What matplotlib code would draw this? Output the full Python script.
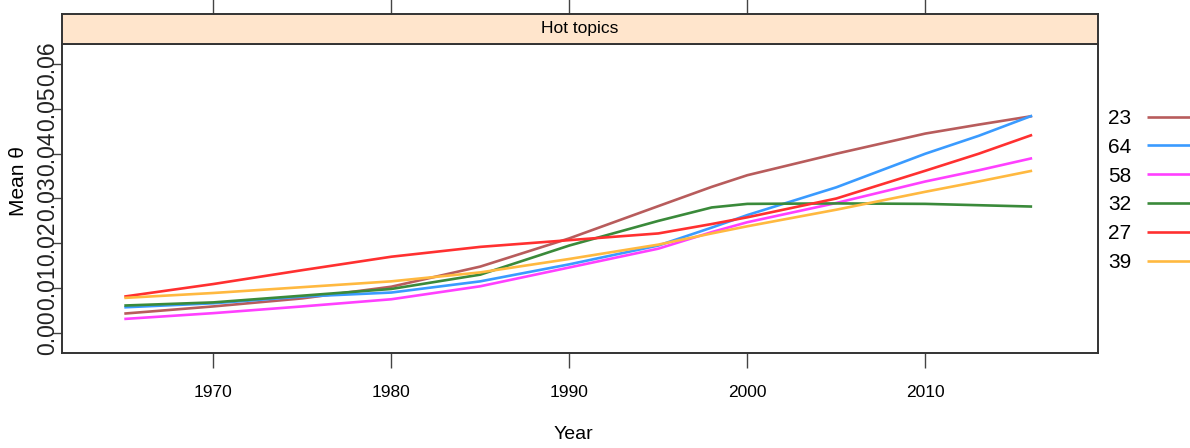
import matplotlib
matplotlib.use("Agg")
import matplotlib.pyplot as plt

years = [1965, 1970, 1975, 1980, 1985, 1990, 1995, 1998, 2000, 2005, 2010, 2013, 2016]
topic_labels = ["23", "64", "58", "32", "27", "39"]
t23 = [.0043, .0059, .0077, .0103, .0148, .0211, .0283, .0326, .0352, .0400, .0445, .0465, .0484]
t64 = [.0057, .0066, .0081, .0090, .0115, .0153, .0195, .0235, .0263, .0325, .0400, .0440, .0485]
t58 = [.0031, .0044, .0059, .0075, .0104, .0146, .0188, .0225, .0247, .0290, .0338, .0363, .0390]
t32 = [.0061, .0068, .0083, .0098, .0130, .0195, .0250, .0280, .0288, .0289, .0288, .0285, .0282]
t27 = [.0081, .0109, .0140, .0170, .0192, .0207, .0222, .0243, .0258, .0300, .0362, .0400, .0442]
t39 = [.0078, .0089, .0102, .0115, .0135, .0165, .0197, .0222, .0238, .0275, .0315, .0338, .0362]
series = [t23, t64, t58, t32, t27, t39]
colors = ["#B85C5C", "#3A9BFF", "#FF40FF", "#3A8A3A", "#FF3030", "#FFB940"]
xticks = [1970, 1980, 1990, 2000, 2010]
yticks = [0.00, 0.01, 0.02, 0.03, 0.04, 0.05, 0.06]
ytick_labels = ["0.00", "0.01", "0.02", "0.03", "0.04", "0.05", "0.06"]

W, H = 1190, 448
fig = plt.figure(figsize=(W / 100, H / 100), dpi=100)
sans = ["Liberation Sans", "DejaVu Sans"]

L, R, T, B = 62, 1098, 44, 353
ax = fig.add_axes([L / W, 1 - B / H, (R - L) / W, (B - T) / H])
sx = fig.add_axes([L / W, 1 - T / H, (R - L) / W, 30 / H], sharex=ax)

for vals, c, lab in zip(series, colors, topic_labels):
    ax.plot(years, vals, color=c, lw=1.9, label=lab, solid_capstyle="butt")

ax.set_xlim(1961.5, 2019.7)
ax.set_ylim(-0.0045, 0.0645)
edge = "#333333"
for a in (ax, sx):
    for s in a.spines.values():
        s.set_color(edge)
        s.set_linewidth(1.4)

ax.set_xticks(xticks)
ax.set_xticklabels([str(x) for x in xticks], family=sans, fontsize=12.5)
ax.tick_params(axis="x", direction="out", length=11, width=1.0, color="#444444", pad=12)
ax.set_yticks(yticks)
ax.set_yticklabels(ytick_labels, family=sans, fontsize=16.5, rotation=90, va="center",
                   color="#222222")
ax.tick_params(axis="y", direction="out", length=7, width=1.0, color="#444444", pad=-5)

sx.set_facecolor("#FFE5CC")
sx.set_ylim(0, 1)
sx.set_yticks([])
sx.tick_params(axis="x", which="both", bottom=False, top=True, labelbottom=False,
               labeltop=False, direction="out", length=14, width=1.0, color="#444444")
sx.text(0.5, 0.5, "Hot topics", transform=sx.transAxes, ha="center", va="center",
        family=sans, fontsize=12.5)

fig.text(573 / W, 1 - 434 / H, "Year", ha="center", va="center", family=sans, fontsize=14)
fig.text(18 / W, 1 - 181 / H, "Mean \u03b8", ha="center", va="center", rotation=90,
         family=sans, fontsize=15)

leg = ax.legend(loc="upper left", bbox_to_anchor=(1108 / W, 1 - 109 / H),
                bbox_transform=fig.transFigure, frameon=False, markerfirst=False,
                prop={"family": sans, "size": 15}, handlelength=2.1,
                handletextpad=0.75, labelspacing=0.47, borderpad=0, borderaxespad=0)

fig.savefig("out.png", dpi=100)
